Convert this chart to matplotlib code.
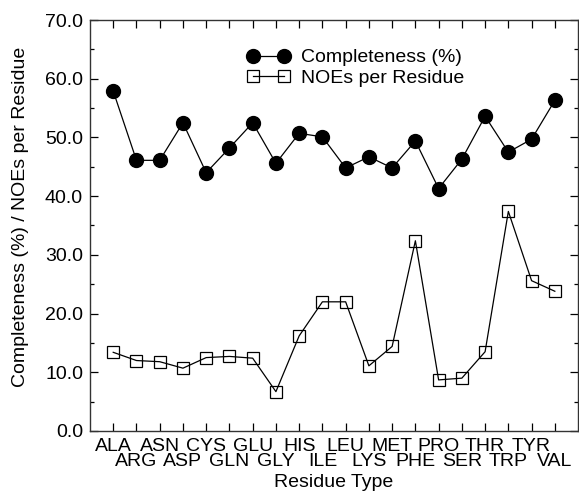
import numpy as np
import matplotlib
matplotlib.use("Agg")
import matplotlib.pyplot as plt
from matplotlib.ticker import MultipleLocator, FixedLocator, FixedFormatter

# residue types along the x axis
residues = ['ALA', 'ARG', 'ASN', 'ASP', 'CYS', 'GLN', 'GLU', 'GLY', 'HIS', 'ILE',
            'LEU', 'LYS', 'MET', 'PHE', 'PRO', 'SER', 'THR', 'TRP', 'TYR', 'VAL']

# values
completeness = [57.9, 46.1, 46.1, 52.5, 44.0, 48.2, 52.5, 45.6, 50.7, 50.1,
                44.8, 46.7, 44.8, 49.4, 41.3, 46.3, 53.6, 47.5, 49.7, 56.3]
noes_per_res = [13.4, 12.0, 11.8, 10.7, 12.5, 12.7, 12.4, 6.7, 16.2, 22.0,
                22.0, 11.1, 14.4, 32.4, 8.7, 9.0, 13.5, 37.4, 25.6, 23.8]

plt.rcParams['font.family'] = ['Liberation Sans', 'DejaVu Sans']
fs = 14

fig = plt.figure(figsize=(5.79, 4.93), dpi=100)
ax = fig.add_axes([0.1554, 0.1258, 0.8430, 0.8336])

x = np.arange(len(residues))
ax.plot(x, completeness, color='black', lw=0.9, marker='o', markersize=10,
        markerfacecolor='black', markeredgecolor='black', label='Completeness (%)')
ax.plot(x, noes_per_res, color='black', lw=0.9, marker='s', markersize=8.5,
        markerfacecolor='none', markeredgecolor='black', markeredgewidth=0.9,
        label='NOEs per Residue')

ax.set_xlim(-1, len(residues))
ax.set_ylim(0, 70)
ax.yaxis.set_major_locator(MultipleLocator(10))
ax.yaxis.set_minor_locator(MultipleLocator(5))
ax.yaxis.set_major_formatter(matplotlib.ticker.FormatStrFormatter('%.1f'))

# two rows of tick labels: even residues on major ticks, odd ones on minor ticks
ax.xaxis.set_major_locator(FixedLocator(x[::2]))
ax.xaxis.set_major_formatter(FixedFormatter(residues[::2]))
ax.xaxis.set_minor_locator(FixedLocator(x[1::2]))
ax.xaxis.set_minor_formatter(FixedFormatter(residues[1::2]))

ax.tick_params(axis='both', which='both', direction='in', top=True, right=True,
               labelsize=fs, color='black', width=0.9)
ax.tick_params(axis='both', which='major', length=6)
ax.tick_params(axis='y', which='minor', length=3)
ax.tick_params(axis='x', which='minor', length=6)
ax.tick_params(axis='x', which='major', pad=5)
ax.tick_params(axis='x', which='minor', pad=16)
ax.tick_params(axis='y', pad=5)
for s in ax.spines.values():
    s.set_linewidth(1.0)
    s.set_color('#333333')

ax.set_xlabel('Residue Type', fontsize=fs, labelpad=2.5)
ax.set_ylabel('Completeness (%) / NOEs per Residue', fontsize=fs)
ax.yaxis.set_label_coords(-0.125, 0.52)

ax.legend(loc='upper left', bbox_to_anchor=(0.322, 0.930), frameon=False,
          numpoints=2, fontsize=fs, handlelength=2.2, handletextpad=0.55,
          labelspacing=0.15, borderaxespad=0, borderpad=0)

fig.savefig('out.png', dpi=100)
